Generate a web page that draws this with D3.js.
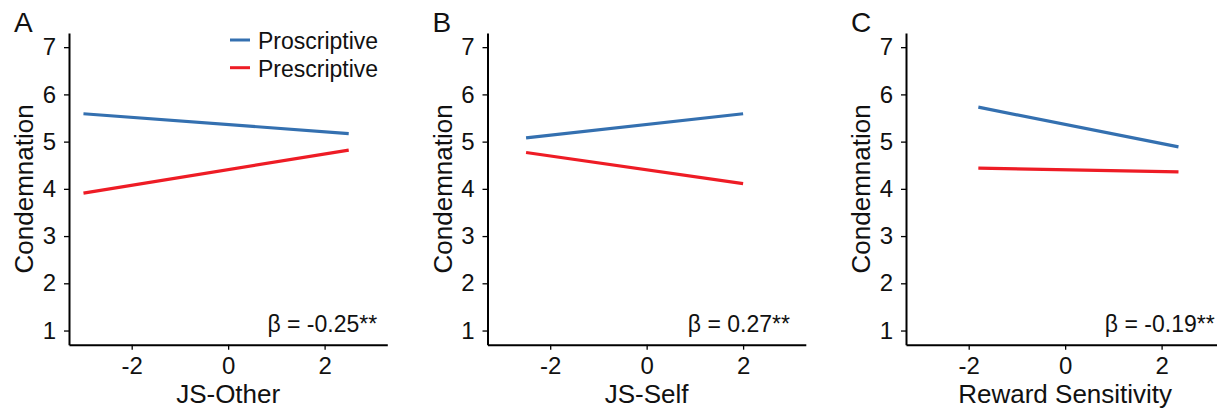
<!DOCTYPE html>
<html>
<head>
<meta charset="utf-8">
<script src="https://cdn.jsdelivr.net/npm/d3@7"></script>
<style>
  body { margin: 0; background: #fff; }
  text { font-family: "Liberation Sans", Arial, sans-serif; fill: #111; }
</style>
</head>
<body>
<div class="canvas"></div>
<script>
// data
const panels = ['A', 'B', 'C']
const xTitles = ['JS-Other', 'JS-Self', 'Reward Sensitivity']
const xStart = [-3, -2.5, -1.8]
const xEnd = [2.5, 2, 2.35]
const proscriptive = [[5.59, 5.17], [5.08, 5.59], [5.73, 4.89]]
const prescriptive = [[3.91, 4.82], [4.77, 4.11], [4.44, 4.36]]
const betas = ['β = -0.25**', 'β = 0.27**', 'β = -0.19**']
const betaX = [3.09, 2.97, 3.1]
const yTicks = [1, 2, 3, 4, 5, 6, 7]
const xTicks = [-2, 0, 2]
const legendLabels = ['Proscriptive', 'Prescriptive']

const colors = { Proscriptive: '#3470b0', Prescriptive: '#ee1c25' }

const dims = { width: 1217, height: 413 }
const plot = { left: 69, step: 418.5, width: 318.3, top: 33, bottom: 344.7 }

const svg = d3.select('.canvas')
  .append('svg')
  .attr('width', dims.width)
  .attr('height', dims.height)

const x = d3.scaleLinear().domain([-3.3, 3.3]).range([0, plot.width])
const y = d3.scaleLinear().domain([0.7, 7.3]).range([plot.bottom, plot.top])

const line = d3.line()
  .x(d => x(d[0]))
  .y(d => y(d[1]))

panels.forEach((letter, i) => {
  const g = svg.append('g')
    .attr('transform', `translate(${plot.left + i * plot.step}, 0)`)

  // axes
  const yAxis = g.append('g')
    .call(d3.axisLeft(y).tickValues(yTicks).tickFormat(d3.format('d'))
      .tickSize(5).tickSizeOuter(0).tickPadding(8))
  const xAxis = g.append('g')
    .attr('transform', `translate(0, ${plot.bottom})`)
    .call(d3.axisBottom(x).tickValues(xTicks).tickFormat(d => d < 0 ? '-' + Math.abs(d) : d)
      .tickSize(5).tickSizeOuter(0).tickPadding(7))

  ;[yAxis, xAxis].forEach(a => {
    a.select('.domain').attr('stroke', '#000').attr('stroke-width', 2)
    a.selectAll('.tick line').attr('stroke', '#000').attr('stroke-width', 1.3)
    a.selectAll('.tick text')
      .style('font-family', '"Liberation Sans", Arial, sans-serif')
      .style('font-size', '24px')
      .attr('fill', '#111')
  })

  // lines
  const series = [
    { name: 'Proscriptive', vals: proscriptive[i] },
    { name: 'Prescriptive', vals: prescriptive[i] }
  ]
  g.selectAll('.fit')
    .data(series)
    .enter()
    .append('path')
      .attr('class', 'fit')
      .attr('fill', 'none')
      .attr('stroke', d => colors[d.name])
      .attr('stroke-width', 3.2)
      .attr('d', d => line([[xStart[i], d.vals[0]], [xEnd[i], d.vals[1]]]))

  // panel letter
  g.append('text')
    .attr('x', -55)
    .attr('y', 32)
    .style('font-size', '28px')
    .text(letter)

  // axis titles
  g.append('text')
    .attr('x', plot.width / 2)
    .attr('y', 403)
    .attr('text-anchor', 'middle')
    .style('font-size', '26px')
    .text(xTitles[i])

  g.append('text')
    .attr('transform', `translate(-36, ${(plot.top + plot.bottom) / 2}) rotate(-90)`)
    .attr('text-anchor', 'middle')
    .style('font-size', '26px')
    .text('Condemnation')

  // beta annotation
  g.append('text')
    .attr('x', x(betaX[i]))
    .attr('y', 332)
    .attr('text-anchor', 'end')
    .style('font-size', '23px')
    .text(betas[i])

  // legend only in first panel
  if (i === 0) {
    const leg = g.selectAll('.legend')
      .data(legendLabels)
      .enter()
      .append('g')
        .attr('class', 'legend')
        .attr('transform', (d, j) => `translate(161, ${40 + j * 27.7})`)
    leg.append('line')
      .attr('x1', 0).attr('x2', 20)
      .attr('stroke', d => colors[d])
      .attr('stroke-width', 3)
    leg.append('text')
      .attr('x', 28)
      .attr('y', 9)
      .style('font-size', '23px')
      .text(d => d)
  }
})
</script>
</body>
</html>
